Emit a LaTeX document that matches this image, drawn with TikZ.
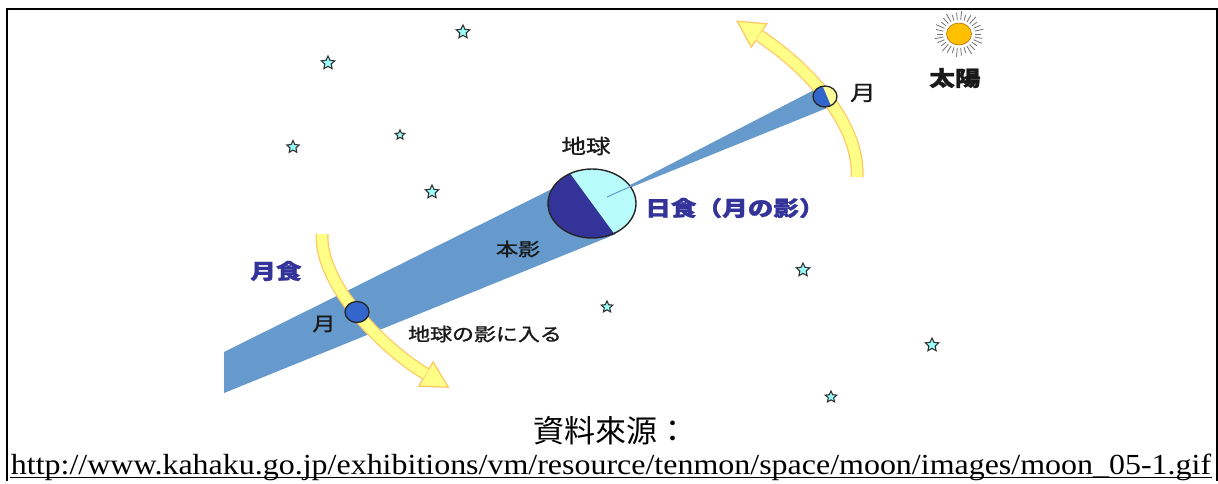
\documentclass[tikz,border=0pt]{standalone}
\usepackage{fontspec}
\setmainfont{Liberation Serif}
\newfontfamily\jpfont{Noto Sans CJK JP}[FakeBold=1.2]
\newfontfamily\tcfont{Noto Sans CJK TC}
\usetikzlibrary{shapes.geometric}
\definecolor{umbra}{HTML}{6699CC}
\definecolor{earthdark}{HTML}{333399}
\definecolor{earthlight}{HTML}{B8FBFB}
\definecolor{moonblue}{HTML}{3366CC}
\definecolor{moonyellow}{HTML}{FFFF99}
\definecolor{arrowfill}{HTML}{FFFF88}
\definecolor{arrowedge}{HTML}{FFC866}
\definecolor{labelblue}{HTML}{333399}
\definecolor{starfill}{HTML}{99FFFF}
\definecolor{sunfill}{HTML}{FFC000}
\newcommand\widetext[1]{\scalebox{1.22}[1]{#1}}
\newcommand\jpsize[1]{\jpfont\fontsize{#1}{#1}\selectfont}
\begin{document}
\begin{tikzpicture}[x=1pt,y=-1pt,
  frame/.style={line width=2.2pt, black},
  lbl/.style={inner sep=0pt, text=black!90},
  bluelbl/.style={inner sep=0pt, text=labelblue},
  star5/.style={star, star points=5, star point ratio=2.1, draw=black!80,
    fill=starfill, line width=1.1pt, inner sep=0pt, minimum size=#1},
  star5/.default=14,
  arrowout/.style={draw=arrowedge, line width=13pt},
  arrowin/.style={draw=arrowfill, line width=10.4pt},
  arrowhead/.style={fill=arrowfill, draw=arrowedge, line width=1.3pt, line join=miter},
  ray/.style={draw=black!55, line width=0.8pt},
]
\useasboundingbox (0,0) rectangle (1218,483);

% umbra of the Earth
\coordinate (ut) at (224,352);
\coordinate (ub) at (224,393);
\coordinate (ue1) at (570,180);
\coordinate (ue2) at (616,234);
\fill[umbra] (ut) -- (ue1) -- (ue2) -- (ub) -- cycle;

% shadow of the Moon towards the Earth
\coordinate (st) at (818,88);
\coordinate (sb) at (832,106);
\coordinate (sp) at (607,197);
\fill[umbra] (st) -- (sb) -- (sp) -- cycle;

% Earth, half lit
\node[ellipse, draw=black!85, line width=1.4pt, fill=earthlight, inner sep=0pt,
  minimum width=88, minimum height=69,
  path picture={\fill[earthdark] (path picture bounding box.center) ++(-41,-56)
     -- ++(82,112) -- ++(-141,0) -- ++(0,-112) -- cycle;}] (earth) at (592,203.5) {};
\coordinate (se) at (636,184);
\draw[umbra, line width=1pt] (sp) -- (se);

% orbit arrows
\coordinate (a1s) at (857,177);
\coordinate (a1m) at (759,35.5);
\coordinate (a1t) at (737.3,21.2);
\coordinate (a1l) at (766.7,23.8);
\coordinate (a1r) at (751.3,47.2);
\draw[arrowout] (a1s) .. controls (860,120) and (801,63) .. (a1m);
\draw[arrowhead] (a1t) -- (a1l) -- (a1r) -- cycle;
\draw[arrowin] (a1s) .. controls (860,120) and (801,63) .. (a1m);

\coordinate (a2s) at (322,234);
\coordinate (a2m) at (426,374);
\coordinate (a2t) at (448.4,387.2);
\coordinate (a2l) at (418.9,386.1);
\coordinate (a2r) at (433.1,361.9);
\draw[arrowout] (a2s) .. controls (320,285) and (383,348.5) .. (a2m);
\draw[arrowhead] (a2t) -- (a2l) -- (a2r) -- cycle;
\draw[arrowin] (a2s) .. controls (320,285) and (383,348.5) .. (a2m);

% the Moon at both positions
\node[ellipse, draw=black!85, line width=1.3pt, fill=moonyellow, inner sep=0pt,
  minimum width=24, minimum height=21,
  path picture={\fill[moonblue] (path picture bounding box.center) ++(-6,-19)
     -- ++(16,38) -- ++(-40,0) -- ++(0,-38) -- cycle;}] (moonU) at (825,96.5) {};
\node[ellipse, draw=black!85, line width=1.3pt, fill=moonblue, inner sep=0pt,
  minimum width=24, minimum height=21] (moonL) at (357,312) {};

% the Sun
\node[ellipse, fill=sunfill, draw=orange!70!black, line width=0.5pt, inner sep=0pt,
  minimum width=25, minimum height=22] (sun) at (959,34) {};
\foreach \a [count=\i] in {0,12,...,348}{
  \pgfmathsetmacro\len{mod(\i,3)==0 ? 9 : (mod(\i,3)==1 ? 6 : 7.5)}
  \draw[ray] (sun.center) ++(\a:16 and 14) -- ++(\a:\len);
}

% stars
\node[star5] (s1) at (463,32) {};
\node[star5] (s2) at (328,63) {};
\node[star5=10] (s3) at (400,135) {};
\node[star5=13] (s4) at (293,147) {};
\node[star5] (s5) at (432,192) {};
\node[star5] (s6) at (803,270) {};
\node[star5=12] (s7) at (607,307) {};
\node[star5] (s8) at (932,345) {};
\node[star5=12] (s9) at (831,397) {};

% labels
\node[lbl, font=\jpsize{21}\bfseries] (sunlbl) at (955,78) {\widetext{太陽}};
\node[lbl, font=\jpsize{21}] (moonUlbl) at (863,93) {\widetext{月}};
\node[lbl, font=\jpsize{20}] (earthlbl) at (586,146) {\widetext{地球}};
\node[bluelbl, font=\jpsize{21}\bfseries] (solarlbl) at (735,208) {\widetext{日食（月の影）}};
\node[lbl, font=\jpsize{18}] (umbralbl) at (518,249) {\widetext{本影}};
\node[bluelbl, font=\jpsize{21}\bfseries] (lunarlbl) at (276,271) {\widetext{月食}};
\node[lbl, font=\jpsize{19}] (moonLlbl) at (324,324) {\widetext{月}};
\node[lbl, font=\jpsize{18}] (entrylbl) at (485,334) {\widetext{地球の影に入る}};

% source caption
\node[inner sep=0pt, font=\tcfont\fontsize{31}{31}\selectfont] (cap) at (611,431) {資料來源：};
\node[inner sep=0pt, anchor=base] (url) at (611,474)
  {\resizebox{1200pt}{20.5pt}{http://www.kahaku.go.jp/exhibitions/vm/resource/tenmon/space/moon/images/moon\_05-1.gif}};
\coordinate (ul1) at (10,477.5);
\coordinate (ul2) at (1212,477.5);
\draw[line width=1.4pt] (ul1) -- (ul2);

% frame
\coordinate (f1) at (7,481);
\coordinate (f2) at (7,9);
\coordinate (f3) at (1217,9);
\coordinate (f4) at (1217,481);
\draw[frame] (f1) -- (f2) -- (f3) -- (f4);
\end{tikzpicture}
\end{document}
